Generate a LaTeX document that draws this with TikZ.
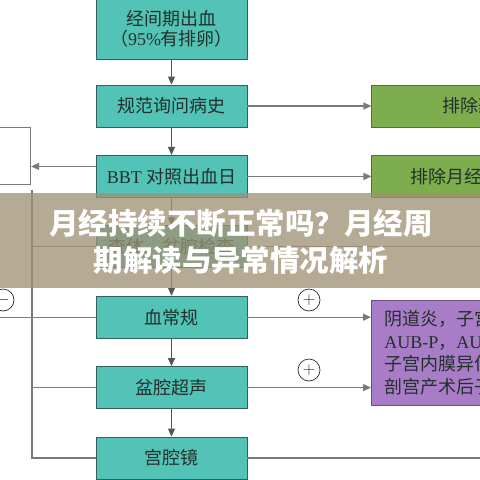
\documentclass[tikz,border=0pt]{standalone}
\usepackage{fontspec}
\setmainfont{Liberation Serif}
\newfontfamily\cjk{Noto Sans CJK SC}
\usepackage{tikz}
\usetikzlibrary{positioning,arrows.meta}
\definecolor{tealbox}{HTML}{52C3B6}
\definecolor{tealedge}{HTML}{2F625C}
\definecolor{okfill}{HTML}{7DAD4D}
\definecolor{okedge}{HTML}{52703A}
\definecolor{lesfill}{HTML}{A87CC6}
\definecolor{lesedge}{HTML}{6B4F80}
\definecolor{ink}{HTML}{22302C}
\definecolor{wire}{HTML}{7A7A7A}
\definecolor{bannerbg}{RGB}{159,145,115}

\begin{document}
\begin{tikzpicture}[x=1pt, y=-1pt,
    node distance=27.5pt,
    box/.style={draw=tealedge, line width=0.9pt, fill=tealbox, minimum width=151pt, minimum height=42pt,
      inner sep=0pt, align=center, text=ink, font=\cjk\fontsize{18}{20}\selectfont},
    okbox/.style={draw=okedge, line width=0.9pt, fill=okfill, minimum height=42pt, inner ysep=0pt,
      text=ink, font=\cjk\fontsize{18}{20}\selectfont},
    lesbox/.style={draw=lesedge, line width=0.9pt, fill=lesfill, minimum height=105pt, inner xsep=13pt,
      align=left, text=ink, font=\cjk\fontsize{18}{22.5}\selectfont},
    sign/.style={circle, draw=ink, line width=0.7pt, minimum size=22pt, inner sep=0pt, text=ink,
      font=\fontsize{17}{17}\selectfont},
    wireline/.style={draw=wire, line width=1.1pt},
    flow/.style={draw=ink!80, line width=1pt, ->},
    >={Triangle[length=8pt,width=7pt]}]
    \useasboundingbox (0,0) rectangle (480,480);
    \clip (0,0) rectangle (480,480);
    % centre column
    \node[box, minimum height=61pt] (bleed) at (171.5,28.5) {经间期出血\\（{\rmfamily 95\%}有排卵）};
    \node[box, below=25.1pt of bleed] (history) {规范询问病史};
    \node[box, below=of history] (bbt) {{\rmfamily BBT} 对照出血日};
    \node[box, below=of bbt] (exam) {查体、盆腔检查};
    \node[box, below=of exam] (blood) {血常规};
    \node[box, below=of blood] (sono) {盆腔超声};
    \node[box, below=of sono] (hystero) {宫腔镜};
    % right side
    \node[okbox, right=124pt of history, inner xsep=71pt] (rulea) {排除药};
    \node[okbox, right=124pt of bbt, inner xsep=39pt] (ruleb) {排除月经};
    \node[lesbox, anchor=west] (lesion) at (371,352.5)
      {阴道炎，子宫\\{\rmfamily AUB-P}，{\rmfamily AUB}\\子宫内膜异位\\剖宫产术后子};
    % left side
    \node[draw=wire, line width=1pt, anchor=east, minimum width=80pt, minimum height=57pt] (recall) at (31,155.5) {};
    \coordinate (bustop) at (32,190);
    \coordinate (farleft) at (-5,0);
    \coordinate (farright) at (490,0);
    % signs
    \node[sign] (plusa) at (309,300) {$+$};
    \node[sign] (plusb) at (309,370) {$+$};
    \node[sign] (minus) at (3,300) {$-$};
    % edges
    \draw[flow] (bleed) -- (history);
    \draw[flow] (history) -- (bbt);
    \draw[flow] (bbt) -- (exam);
    \draw[flow] (exam) -- (blood);
    \draw[flow] (blood) -- (sono);
    \draw[flow] (sono) -- (hystero);
    \draw[wireline, ->] (history) -- (rulea);
    \draw[wireline, ->] (bbt) -- (ruleb);
    \draw[wireline, ->] ([yshift=10pt]bbt.west) -- ([yshift=10pt]bbt.west -| recall.east);
    \draw[wireline, ->] (blood.east) -- (blood.east -| lesion.west);
    \draw[wireline, ->] (sono.east) -- (sono.east -| lesion.west);
    \draw[wireline] (bustop) |- (hystero.west);
    \draw[wireline] (bustop |- exam.west) -- (exam.west);
    \draw[wireline] (bustop |- sono.west) -- (sono.west);
    \draw[wireline] (blood.west -| farleft) -- (blood.west);
    \draw[wireline] (exam.east) -- (exam.east -| farright);
    \draw[wireline] (hystero.east) -- (hystero.east -| farright);
    % title banner
    \fill[bannerbg, fill opacity=0.77] (0,192.5) rectangle (480,288);
    \node[align=center, text=white, font=\cjk\bfseries\fontsize{29.5}{37}\selectfont] (title) at (241,241.5)
      {月经持续不断正常吗？月经周\\期解读与异常情况解析};
\end{tikzpicture}
\end{document}
